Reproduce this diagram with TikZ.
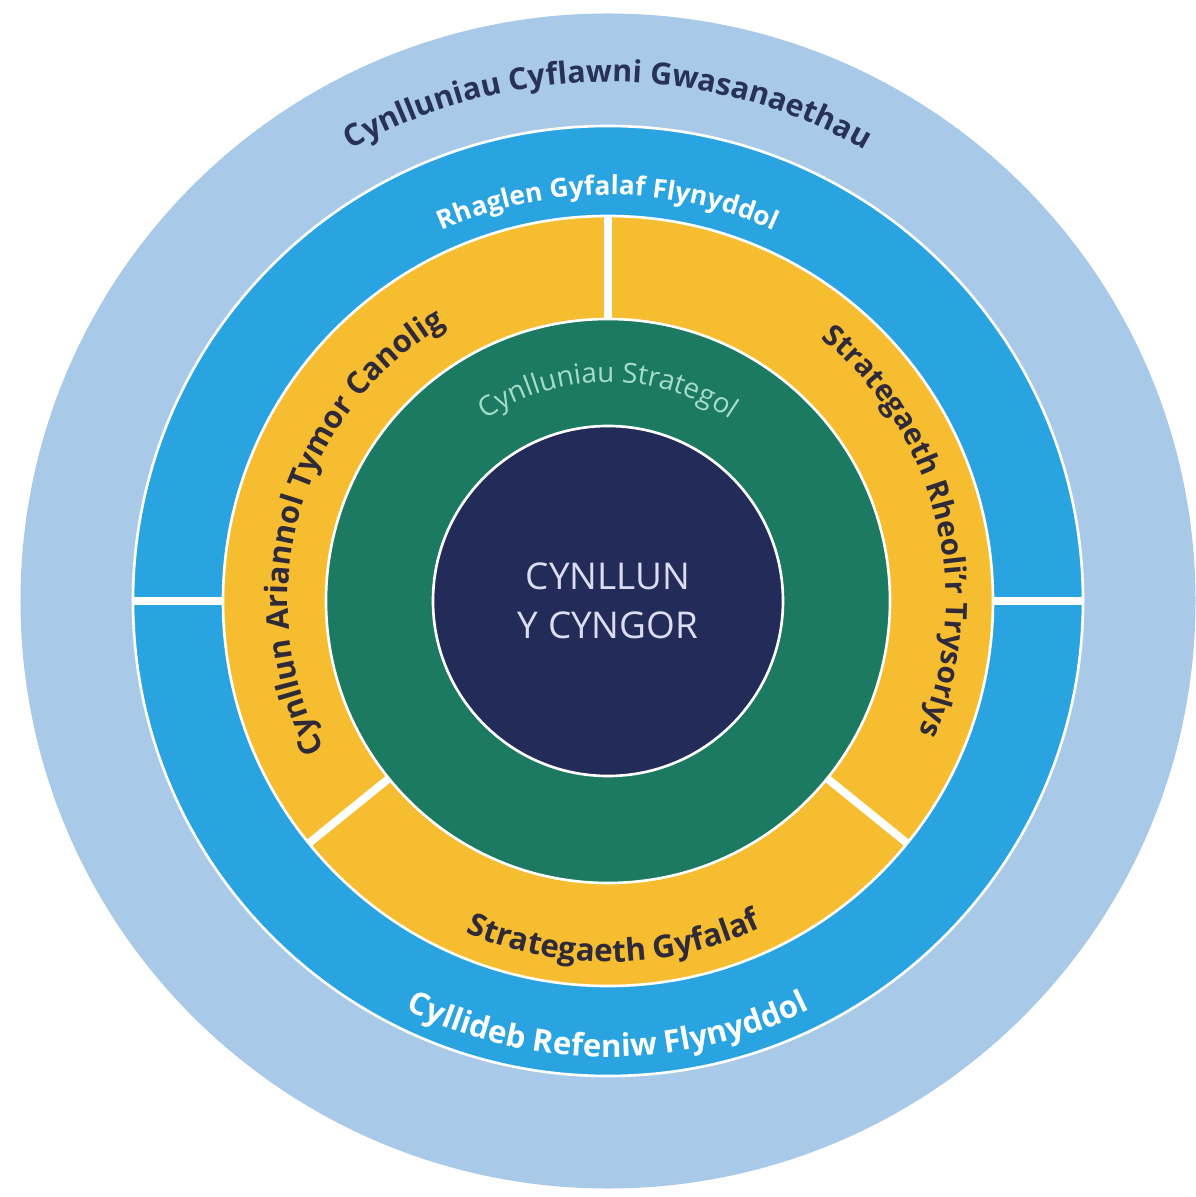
\documentclass[tikz,border=0pt]{standalone}
\usepackage{fontspec}
\setmainfont{Open Sans}
\usepackage{xcolor}
\usetikzlibrary{decorations.text}

\definecolor{paleblue}{HTML}{A9C9E8}
\definecolor{midblue}{HTML}{29A4E0}
\definecolor{gold}{HTML}{F6BD30}
\definecolor{ringgreen}{HTML}{1D7A62}
\definecolor{navy}{HTML}{232B59}
\definecolor{outertext}{HTML}{27315A}
\definecolor{darktext}{HTML}{2F2A3A}
\definecolor{mint}{HTML}{A6DCC8}
\definecolor{lilac}{HTML}{DCDDF2}

\begin{document}
\begin{tikzpicture}[
  ring/.style={draw=white,line width=1.5pt},
  sep/.style={white,line width=#1},
  arclabel/.style n args={3}{decorate,decoration={text along path,text align=center,text color=#1,text={|#2|#3}}}]
\useasboundingbox (-12.16,-11.92) rectangle (11.74,12.02);
% rings, from the outside in
\fill[paleblue] (0,0) circle (11.75);
\filldraw[ring,fill=midblue] (0,0) circle (9.5);
\filldraw[ring,fill=gold] (0,0) circle (7.7);
\filldraw[ring,fill=ringgreen] (0,0) circle (5.64);
\node[circle,fill=navy,draw=white,line width=1.5pt,minimum size=7cm,align=center,
  text=lilac,font=\fontsize{21}{28}\selectfont] (plan) at (0,0) {CYNLLUN\\Y CYNGOR};
% white dividers
\foreach \a in {0,180}
  \draw[sep=5pt] (\a:7.7) -- (\a:9.5);
\foreach \a in {90,219,321}
  \draw[sep=4.5pt] (\a:5.64) -- (\a:7.7);
% labels along the rings
\path[arclabel={outertext}{\fontsize{17.3}{17.3}\selectfont\bfseries}{Cynlluniau Cyflawni Gwasanaethau}]
  (160:10.38) arc[start angle=160,end angle=20,radius=10.38];
\path[arclabel={white}{\fontsize{15}{15}\selectfont\bfseries}{Rhaglen Gyfalaf Flynyddol}]
  (150:8.12) arc[start angle=150,end angle=30,radius=8.12];
\path[arclabel={white}{\fontsize{17.8}{17.8}\selectfont\bfseries}{Cyllideb Refeniw Flynyddol}]
  (200:9.12) arc[start angle=200,end angle=340,radius=9.12];
\path[arclabel={darktext}{\fontsize{17.8}{17.8}\selectfont\bfseries}{Strategaeth Gyfalaf}]
  (221:7.22) arc[start angle=221,end angle=321,radius=7.22];
\path[arclabel={darktext}{\fontsize{17.6}{17.6}\selectfont\bfseries}{Cynllun Ariannol Tymor Canolig}]
  (234:6.4) arc[start angle=234,end angle=94,radius=6.4];
\path[arclabel={darktext}{\fontsize{16.8}{16.8}\selectfont\bfseries}{Strategaeth Rheoli'r Trysorlys}]
  (84:6.76) arc[start angle=84,end angle=-56,radius=6.76];
\path[arclabel={mint}{\fontsize{15.8}{15.8}\selectfont}{Cynlluniau Strategol}]
  (150:4.38) arc[start angle=150,end angle=30,radius=4.38];
\end{tikzpicture}
\end{document}
